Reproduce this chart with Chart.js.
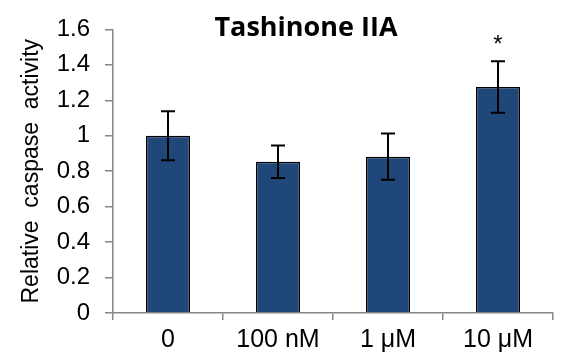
<!DOCTYPE html>
<html>
<head>
<meta charset="utf-8">
<script src="https://cdn.jsdelivr.net/npm/chart.js@4"></script>
<style>
  body { margin: 0; background: #fff; }
  #wrap { width: 564px; height: 362px; }
</style>
</head>
<body>
<div id="wrap"><canvas id="c" width="564" height="362"></canvas></div>
<script>
// values
const doses = ["0", "100 nM", "1 μM", "10 μM"];
const activity = [1.0, 0.853, 0.882, 1.275];
const sem = [0.138, 0.092, 0.130, 0.145];
const marks = ["", "", "", "*"];
const yTicks = [0, 0.2, 0.4, 0.6, 0.8, 1, 1.2, 1.4, 1.6];

const axisGray = "#868686";

// error bars with caps + significance stars
const errorBars = {
  id: "errorBars",
  afterDatasetsDraw(chart) {
    const ctx = chart.ctx;
    const y = chart.scales.y;
    const meta = chart.getDatasetMeta(0);
    ctx.save();
    ctx.strokeStyle = "#000";
    ctx.lineWidth = 2;
    meta.data.forEach((bar, i) => {
      const hi = y.getPixelForValue(activity[i] + sem[i]);
      const lo = y.getPixelForValue(activity[i] - sem[i]);
      ctx.beginPath();
      ctx.moveTo(bar.x, hi); ctx.lineTo(bar.x, lo);
      ctx.moveTo(bar.x - 7, hi); ctx.lineTo(bar.x + 7, hi);
      ctx.moveTo(bar.x - 7, lo); ctx.lineTo(bar.x + 7, lo);
      ctx.stroke();
      if (marks[i]) {
        ctx.fillStyle = "#000";
        ctx.font = "24px 'Liberation Sans'";
        ctx.textAlign = "center";
        ctx.textBaseline = "middle";
        ctx.fillText(marks[i], bar.x, hi - 16);
      }
    });
    // chart title
    ctx.fillStyle = "#000";
    ctx.font = "bold 27px 'Open Sans'";
    ctx.textAlign = "center";
    ctx.textBaseline = "middle";
    ctx.fillText("Tashinone IIA", 306, 28);
    ctx.restore();
  }
};

new Chart(document.getElementById("c"), {
  type: "bar",
  data: {
    labels: doses,
    datasets: [{
      data: activity,
      backgroundColor: "#1f477a",
      borderColor: "#000",
      borderWidth: 1.5,
      categoryPercentage: 1,
      barPercentage: 0.4
    }]
  },
  options: {
    responsive: false,
    animation: false,
    layout: { padding: { left: 16, top: 18, right: 11, bottom: 0 } },
    plugins: { legend: { display: false }, tooltip: { enabled: false } },
    scales: {
      x: {
        afterFit: s => { s.height = 49; },
        border: { color: axisGray, width: 1.5 },
        grid: { offset: true, drawOnChartArea: false, color: axisGray, tickLength: 7, lineWidth: 1.5 },
        ticks: { color: "#000", font: { family: "Liberation Sans", size: 25 }, padding: 5 }
      },
      y: {
        min: 0,
        max: 1.6,
        afterFit: s => { s.width = 97; },
        afterBuildTicks: s => { s.ticks = yTicks.map(v => ({ value: v })); },
        border: { color: axisGray, width: 1.5 },
        grid: { drawOnChartArea: false, color: axisGray, tickLength: 8, lineWidth: 1.5 },
        ticks: {
          color: "#000",
          font: { family: "Liberation Sans", size: 24 },
          padding: 15,
          callback: v => String(Math.round(v * 10) / 10)
        },
        title: {
          display: true,
          text: "Relative  caspase  activity",
          color: "#000",
          font: { family: "Liberation Sans", size: 23 },
          padding: { top: 2, bottom: 0 }
        }
      }
    }
  },
  plugins: [errorBars]
});
</script>
</body>
</html>
